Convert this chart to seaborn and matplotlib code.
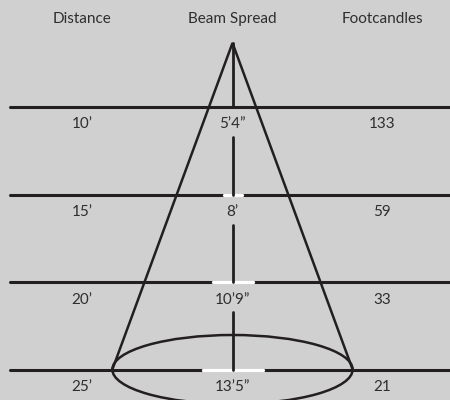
import numpy as np
import pandas as pd
import matplotlib.pyplot as plt
import seaborn as sns
from matplotlib.patches import Ellipse

# chart data
headers = ["Distance", "Beam Spread", "Footcandles"]
distance = ["10’", "15’", "20’", "25’"]
beam_spread = ["5’4”", "8’", "10’9”", "13’5”"]
footcandles = ["133", "59", "33", "21"]

bg = "#d0d0d0"
ink = "#231f20"
txt = "#2e2e2e"

sns.set_theme(style="white", rc={"axes.facecolor": bg, "figure.facecolor": bg})
plt.rcParams['font.family'] = ['Lato', 'DejaVu Sans']

# layout (drawing units = pixels of the 450x400 canvas)
col_x = [82, 232.5, 382]
header_y = 19
apex_y = 43
first_row = 107
row_gap = 87.5
slope = 0.368
gap_half = [0, 9, 20, 30]
n = len(distance)
row_y = first_row + row_gap * np.arange(n)
fs = 11

fig = plt.figure(figsize=(4.5, 4), dpi=100)
ax = fig.add_axes([0, 0, 1, 1])
ax.set_xlim(0, 450)
ax.set_ylim(400, 0)
ax.axis('off')

# horizontal rules
rules = pd.DataFrame({
    'x': np.tile([10, 450], n),
    'y': np.repeat(row_y, 2),
    'seg': np.repeat(np.arange(n), 2),
})
sns.lineplot(data=rules, x='x', y='y', units='seg', estimator=None, sort=False,
             color=ink, lw=2.2, ax=ax, zorder=2)

# white gaps in the rules
gaps = pd.DataFrame({
    'x': np.concatenate([[col_x[1] - g, col_x[1] + g] for g in gap_half]),
    'y': np.repeat(row_y, 2),
    'seg': np.repeat(np.arange(n), 2),
})
gaps = gaps[gaps['seg'].map(lambda s: gap_half[s] > 0)]
sns.lineplot(data=gaps, x='x', y='y', units='seg', estimator=None, sort=False,
             color='white', lw=2.4, ax=ax, zorder=3)

# centre axis, broken by the beam spread labels
tops = np.concatenate([[apex_y], row_y[:-1] + 30])
axis_df = pd.DataFrame({
    'x': col_x[1],
    'y': np.column_stack([tops, row_y]).ravel(),
    'seg': np.repeat(np.arange(n), 2),
})
sns.lineplot(data=axis_df, x='x', y='y', units='seg', estimator=None, sort=False,
             color=ink, lw=2.0, ax=ax, zorder=4)

# cone
half_base = slope * (row_y[-1] - apex_y)
cone = pd.DataFrame({
    'x': [col_x[1] - half_base, col_x[1], col_x[1] + half_base],
    'y': [row_y[-1], apex_y, row_y[-1]],
})
ax.plot(cone['x'], cone['y'], color=ink, lw=1.8, solid_joinstyle='miter', zorder=5)
ax.add_patch(Ellipse((col_x[1], row_y[-1]), 2 * half_base, 69, fill=False,
                     edgecolor=ink, lw=1.8, zorder=5))

# text
for x, h in zip(col_x, headers):
    ax.text(x, header_y, h, ha='center', va='center', fontsize=fs, color=txt)
for i in range(n):
    y = row_y[i] + 17.5
    ax.text(col_x[0], y, distance[i], ha='center', va='center', fontsize=fs, color=txt)
    ax.text(col_x[1], y, beam_spread[i], ha='center', va='center', fontsize=fs, color=txt, zorder=6)
    ax.text(col_x[2], y, footcandles[i], ha='center', va='center', fontsize=fs, color=txt)

fig.savefig('out.png', dpi=100, facecolor=bg)
